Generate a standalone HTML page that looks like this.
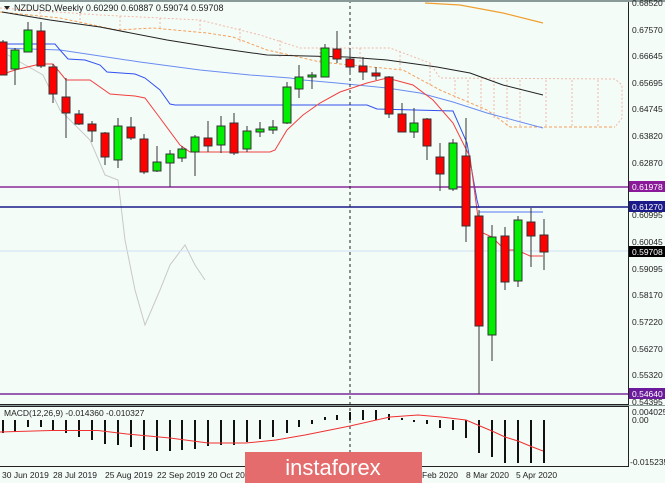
<!DOCTYPE html>
<html><head><meta charset="utf-8"><style>
body{margin:0;background:#fff}
svg{display:block;font-family:"Liberation Sans",Arial,sans-serif}
</style></head><body>
<svg width="665" height="483" viewBox="0 0 665 483" xmlns="http://www.w3.org/2000/svg">
<rect width="665" height="483" fill="#f4fcf8"/>
<!-- cloud -->
<g fill="none" stroke="#f2b9a8" stroke-width="1" stroke-dasharray="2,2">
<polyline points="0,8 100,15 200,20 260,35 300,48 390,48 430,63 440,78 615,79 622,85 622,118 615,127"/>
<line x1="455" y1="80" x2="455" y2="100"/><line x1="468" y1="80" x2="468" y2="105"/><line x1="481" y1="80" x2="481" y2="110"/><line x1="494" y1="80" x2="494" y2="118"/><line x1="507" y1="80" x2="507" y2="126"/><line x1="520" y1="80" x2="520" y2="127"/><line x1="546" y1="80" x2="546" y2="127"/><line x1="572" y1="80" x2="572" y2="127"/><line x1="598" y1="80" x2="598" y2="127"/>
<line x1="40" y1="12" x2="40" y2="18"/><line x1="80" y1="14" x2="80" y2="23"/><line x1="120" y1="16" x2="120" y2="30"/><line x1="160" y1="18" x2="160" y2="28"/><line x1="200" y1="20" x2="200" y2="33"/><line x1="240" y1="28" x2="240" y2="42"/><line x1="280" y1="40" x2="280" y2="57"/><line x1="320" y1="48" x2="320" y2="62"/><line x1="360" y1="48" x2="360" y2="66"/><line x1="400" y1="51" x2="400" y2="70"/><line x1="430" y1="63" x2="430" y2="85"/>
</g>
<polyline fill="none" stroke="#f5a05a" stroke-width="1" stroke-dasharray="3,2" points="0,12 60,18 117,30 153,28 207,33 233,37 267,50 290,55 320,62 403,70 440,90 487,110 510,127 615,127"/>
<polyline fill="none" stroke="#f0a030" stroke-width="1.3" points="425,3 460,5 503,13 543,23"/>
<polyline fill="none" stroke="#c8c8c8" stroke-width="1" points="8,55 20,62 43,75 60,110 90,140 105,175 118,180 125,240 135,290 145,325 160,290 170,265 185,245 195,265 205,280"/>
<polyline fill="none" stroke="#222" stroke-width="1" points="2,12 50,20 100,27 167,40 217,48 267,55 347,57 387,60 437,67 470,73 503,85 543,95"/>
<polyline fill="none" stroke="#6a8cf0" stroke-width="1" points="0,48 60,50 100,56 140,62 200,70 250,75 290,78 303,80 337,83 387,88 420,93 453,102 487,113 543,128"/>
<polyline fill="none" stroke="#3050f0" stroke-width="1" points="0,44 55,44 60,50 68,59 85,60 100,65 107,72 135,74 145,78 160,90 170,104 175,105 367,105 377,109 453,111 467,143 477,200 479,208"/>
<line x1="479" y1="212" x2="543" y2="212" stroke="#8aa4f5" stroke-width="1.5"/>
<polyline fill="none" stroke="#f04040" stroke-width="1" points="0,75 15,70 40,64 53,64 66,80 90,80 110,94 135,96 145,98 160,118 180,145 190,152 270,152 275,150 287,130 303,115 320,103 340,92 367,83 387,78 413,85 433,100 453,123 470,157 479,225 483,233 492,237 500,245 505,250 517,250 530,256 543,256"/>
<line x1="0" y1="187" x2="628" y2="187" stroke="#8a2a9a" stroke-width="1.5"/>
<line x1="0" y1="207" x2="628" y2="207" stroke="#1a1a8a" stroke-width="1.5"/>
<line x1="0" y1="394" x2="628" y2="394" stroke="#7a2a9a" stroke-width="1.5"/>
<line x1="0" y1="251" x2="628" y2="251" stroke="#cfe0f5" stroke-width="1"/>
<line x1="350" y1="0" x2="350" y2="466" stroke="#222" stroke-width="1" stroke-dasharray="3,3"/>
<g stroke="#333" stroke-width="1">
<line x1="3" y1="40" x2="3" y2="75"/><rect x="-1" y="42" width="8" height="33" fill="#f00"/>
<line x1="15" y1="48" x2="15" y2="85"/><rect x="11" y="50" width="8" height="19" fill="#0e0"/>
<line x1="28" y1="22" x2="28" y2="52"/><rect x="24" y="30" width="8" height="22" fill="#0e0"/>
<line x1="41" y1="22" x2="41" y2="68"/><rect x="37" y="31" width="8" height="35" fill="#f00"/>
<line x1="53" y1="64" x2="53" y2="103"/><rect x="49" y="67" width="8" height="27" fill="#f00"/>
<line x1="66" y1="78" x2="66" y2="138"/><rect x="62" y="97" width="8" height="16" fill="#f00"/>
<line x1="79" y1="110" x2="79" y2="125"/><rect x="75" y="114" width="8" height="10" fill="#f00"/>
<line x1="92" y1="121" x2="92" y2="142"/><rect x="88" y="124" width="8" height="7" fill="#f00"/>
<line x1="105" y1="132" x2="105" y2="165"/><rect x="101" y="133" width="8" height="24" fill="#f00"/>
<line x1="118" y1="118" x2="118" y2="168"/><rect x="114" y="126" width="8" height="34" fill="#0e0"/>
<line x1="131" y1="117" x2="131" y2="140"/><rect x="127" y="127" width="8" height="11" fill="#f00"/>
<line x1="144" y1="134" x2="144" y2="174"/><rect x="140" y="139" width="8" height="33" fill="#f00"/>
<line x1="157" y1="146" x2="157" y2="172"/><rect x="153" y="162" width="8" height="9" fill="#0e0"/>
<line x1="170" y1="150" x2="170" y2="187"/><rect x="166" y="154" width="8" height="9" fill="#0e0"/>
<line x1="182" y1="146" x2="182" y2="162"/><rect x="178" y="149" width="8" height="9" fill="#0e0"/>
<line x1="195" y1="135" x2="195" y2="176"/><rect x="191" y="137" width="8" height="15" fill="#0e0"/>
<line x1="208" y1="121" x2="208" y2="152"/><rect x="204" y="138" width="8" height="8" fill="#f00"/>
<line x1="221" y1="116" x2="221" y2="153"/><rect x="217" y="126" width="8" height="19" fill="#0e0"/>
<line x1="234" y1="113" x2="234" y2="155"/><rect x="230" y="123" width="8" height="30" fill="#f00"/>
<line x1="247" y1="126" x2="247" y2="152"/><rect x="243" y="131" width="8" height="18" fill="#0e0"/>
<line x1="260" y1="122" x2="260" y2="137"/><rect x="256" y="129" width="8" height="3" fill="#0e0"/>
<line x1="273" y1="120" x2="273" y2="134"/><rect x="269" y="127" width="8" height="3" fill="#0e0"/>
<line x1="287" y1="82" x2="287" y2="124"/><rect x="283" y="87" width="8" height="36" fill="#0e0"/>
<line x1="299" y1="65" x2="299" y2="98"/><rect x="295" y="77" width="8" height="12" fill="#0e0"/>
<line x1="312" y1="72" x2="312" y2="89"/><rect x="308" y="75" width="8" height="2" fill="#0e0"/>
<line x1="325" y1="44" x2="325" y2="77"/><rect x="321" y="48" width="8" height="29" fill="#0e0"/>
<line x1="337" y1="31" x2="337" y2="63"/><rect x="333" y="49" width="8" height="10" fill="#f00"/>
<line x1="350" y1="50" x2="350" y2="75"/><rect x="346" y="59" width="8" height="8" fill="#f00"/>
<line x1="363" y1="57" x2="363" y2="80"/><rect x="359" y="66" width="8" height="6" fill="#f00"/>
<line x1="376" y1="67" x2="376" y2="80"/><rect x="372" y="73" width="8" height="3" fill="#f00"/>
<line x1="389" y1="76" x2="389" y2="118"/><rect x="385" y="77" width="8" height="37" fill="#f00"/>
<line x1="402" y1="103" x2="402" y2="132"/><rect x="398" y="114" width="8" height="18" fill="#f00"/>
<line x1="414" y1="108" x2="414" y2="138"/><rect x="410" y="123" width="8" height="9" fill="#0e0"/>
<line x1="427" y1="118" x2="427" y2="160"/><rect x="423" y="119" width="8" height="27" fill="#f00"/>
<line x1="440" y1="143" x2="440" y2="191"/><rect x="436" y="157" width="8" height="17" fill="#f00"/>
<line x1="453" y1="139" x2="453" y2="191"/><rect x="449" y="143" width="8" height="46" fill="#0e0"/>
<line x1="466" y1="118" x2="466" y2="242"/><rect x="462" y="156" width="8" height="70" fill="#f00"/>
<line x1="479" y1="210" x2="479" y2="394"/><rect x="475" y="216" width="8" height="110" fill="#f00"/>
<line x1="492" y1="225" x2="492" y2="361"/><rect x="488" y="237" width="8" height="98" fill="#0e0"/>
<line x1="505" y1="227" x2="505" y2="290"/><rect x="501" y="236" width="8" height="46" fill="#f00"/>
<line x1="518" y1="216" x2="518" y2="287"/><rect x="514" y="220" width="8" height="61" fill="#0e0"/>
<line x1="531" y1="208" x2="531" y2="267"/><rect x="527" y="222" width="8" height="14" fill="#f00"/>
<line x1="544" y1="219" x2="544" y2="270"/><rect x="540" y="235" width="8" height="17" fill="#f00"/>
</g>
<rect x="0" y="0" width="665" height="2" fill="#8a9a98"/>
<line x1="628.5" y1="2" x2="628.5" y2="404" stroke="#222"/>
<line x1="0" y1="404.5" x2="629" y2="404.5" stroke="#222"/>
<rect x="0" y="405" width="665" height="1" fill="#8a9a98"/>
<line x1="0" y1="406.5" x2="629" y2="406.5" stroke="#222"/>
<line x1="628.5" y1="406" x2="628.5" y2="466" stroke="#222"/>
<line x1="0" y1="466.5" x2="629" y2="466.5" stroke="#222"/>
<path d="M4,6 L10,6 L7,10 Z" fill="#222"/>
<text x="14" y="11" font-size="9" fill="#222">NZDUSD,Weekly  0.60290 0.60887 0.59074 0.59708</text>
<g font-size="8.5" fill="#222">
<text x="632" y="6">0.68520</text><text x="632" y="33">0.67570</text><text x="632" y="59">0.66645</text><text x="632" y="86">0.65695</text><text x="632" y="112">0.64745</text><text x="632" y="139">0.63820</text><text x="632" y="166">0.62870</text><text x="632" y="218">0.60995</text><text x="632" y="245">0.60045</text><text x="632" y="272">0.59095</text><text x="632" y="298">0.58170</text><text x="632" y="325">0.57220</text><text x="632" y="352">0.56270</text><text x="632" y="378">0.55320</text><text x="632" y="405">0.54395</text>
</g>
<rect x="629" y="181" width="36" height="11" fill="#8a1a9a"/><text x="632" y="190" font-size="8.5" fill="#fff">0.61978</text>
<rect x="629" y="201" width="36" height="11" fill="#1a1a8a"/><text x="632" y="210" font-size="8.5" fill="#fff">0.61270</text>
<rect x="629" y="246" width="36" height="11" fill="#000"/><text x="632" y="255" font-size="8.5" fill="#fff">0.59708</text>
<rect x="629" y="388" width="36" height="11" fill="#6a1a9a"/><text x="632" y="397" font-size="8.5" fill="#fff">0.54640</text>
<text x="4" y="416" font-size="8.5" fill="#222">MACD(12,26,9) -0.014360 -0.010327</text>
<g font-size="8.5" fill="#222"><text x="632" y="415">0.004025</text><text x="632" y="423">0.00</text><text x="630" y="465">-0.015235</text></g>
<g stroke="#111" stroke-width="2">
<line x1="3" y1="420" x2="3" y2="433"/><line x1="15" y1="420" x2="15" y2="432"/><line x1="28" y1="420" x2="28" y2="427"/><line x1="41" y1="420" x2="41" y2="427"/><line x1="53" y1="420" x2="53" y2="430"/><line x1="66" y1="420" x2="66" y2="433"/><line x1="79" y1="420" x2="79" y2="437"/><line x1="92" y1="420" x2="92" y2="440"/><line x1="105" y1="420" x2="105" y2="444"/><line x1="118" y1="420" x2="118" y2="445"/><line x1="131" y1="420" x2="131" y2="447"/><line x1="144" y1="420" x2="144" y2="450"/><line x1="157" y1="420" x2="157" y2="451"/><line x1="170" y1="420" x2="170" y2="451"/><line x1="182" y1="420" x2="182" y2="450"/><line x1="195" y1="420" x2="195" y2="449"/><line x1="208" y1="420" x2="208" y2="446"/><line x1="221" y1="420" x2="221" y2="445"/><line x1="234" y1="420" x2="234" y2="445"/><line x1="247" y1="420" x2="247" y2="442"/><line x1="260" y1="420" x2="260" y2="439"/><line x1="273" y1="420" x2="273" y2="437"/><line x1="287" y1="420" x2="287" y2="433"/><line x1="299" y1="420" x2="299" y2="427"/><line x1="312" y1="420" x2="312" y2="424"/>
<line x1="325" y1="420" x2="325" y2="417"/><line x1="337" y1="420" x2="337" y2="415"/><line x1="350" y1="420" x2="350" y2="412"/><line x1="363" y1="420" x2="363" y2="410"/><line x1="376" y1="420" x2="376" y2="410"/><line x1="389" y1="420" x2="389" y2="414"/><line x1="402" y1="420" x2="402" y2="418"/>
<line x1="414" y1="420" x2="414" y2="422"/><line x1="427" y1="420" x2="427" y2="424"/><line x1="440" y1="420" x2="440" y2="428"/><line x1="453" y1="420" x2="453" y2="430"/><line x1="466" y1="420" x2="466" y2="438"/><line x1="479" y1="420" x2="479" y2="453"/><line x1="492" y1="420" x2="492" y2="457"/><line x1="505" y1="420" x2="505" y2="463"/><line x1="518" y1="420" x2="518" y2="463"/><line x1="531" y1="420" x2="531" y2="463"/><line x1="544" y1="420" x2="544" y2="463"/>
</g>
<polyline fill="none" stroke="#f03030" stroke-width="1" points="0,432 51,430.5 98,430.5 127,434 170,438 208,443 246,443 276,440 305,435 350,426 390,417 418,415 441,417 466,420 480,426 492,431 505,437 518,441 530,446 543,451"/>
<g font-size="8.5" fill="#222">
<text x="2" y="478">30 Jun 2019</text><text x="53" y="478">28 Jul 2019</text><text x="105" y="478">25 Aug 2019</text><text x="157" y="478">22 Sep 2019</text><text x="208" y="478">20 Oct 2019</text><text x="422" y="478">Feb 2020</text><text x="466" y="478">8 Mar 2020</text><text x="516" y="478">5 Apr 2020</text>
</g>
<rect x="245" y="452" width="177" height="31" fill="#e56c6c"/>
<text x="333" y="475" font-size="22" fill="#fff" text-anchor="middle">instaforex</text>
</svg>
</body></html>
